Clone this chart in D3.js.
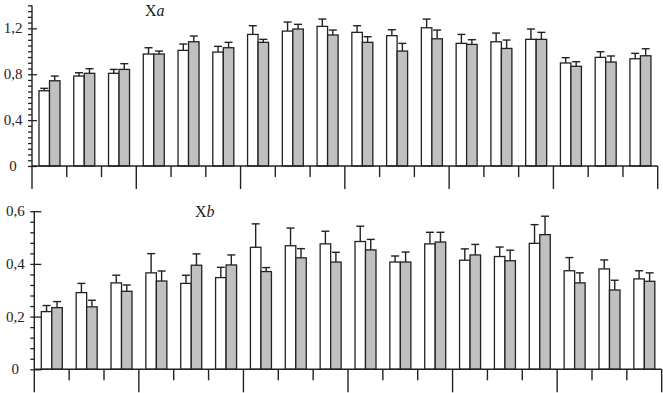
<!DOCTYPE html>
<html>
<head>
<meta charset="UTF-8">
<script src="https://d3js.org/d3.v7.min.js"></script>
<style>
  body { margin: 0; background: #fff; }
  .lbl { font-family: "Liberation Serif", serif; font-size: 15px; fill: #222; }
</style>
</head>
<body>
<svg width="663" height="393"></svg>
<script>
// 18 groups, two series each (white / grey), errors are the upward whisker length
const groups = d3.range(1, 19);

const aWhite    = [0.656, 0.784, 0.808, 0.976, 1.008, 0.993, 1.147, 1.176, 1.217, 1.165, 1.136, 1.205, 1.069, 1.083, 1.104, 0.898, 0.947, 0.935];
const aWhiteErr = [0.021, 0.029, 0.034, 0.055, 0.055, 0.050, 0.076, 0.079, 0.064, 0.058, 0.052, 0.076, 0.078, 0.076, 0.090, 0.046, 0.049, 0.047];
const aGrey     = [0.743, 0.808, 0.842, 0.976, 1.083, 1.031, 1.078, 1.194, 1.142, 1.078, 1.002, 1.109, 1.060, 1.025, 1.104, 0.869, 0.906, 0.961];
const aGreyErr  = [0.041, 0.040, 0.050, 0.026, 0.050, 0.047, 0.026, 0.041, 0.043, 0.049, 0.067, 0.076, 0.041, 0.073, 0.061, 0.040, 0.053, 0.061];

const bWhite    = [0.219, 0.291, 0.328, 0.366, 0.326, 0.348, 0.463, 0.469, 0.476, 0.485, 0.407, 0.476, 0.414, 0.428, 0.478, 0.374, 0.381, 0.343];
const bWhiteErr = [0.023, 0.035, 0.029, 0.073, 0.031, 0.039, 0.089, 0.067, 0.048, 0.058, 0.023, 0.044, 0.043, 0.036, 0.071, 0.050, 0.034, 0.031];
const bGrey     = [0.234, 0.237, 0.296, 0.335, 0.395, 0.396, 0.371, 0.423, 0.407, 0.453, 0.407, 0.483, 0.434, 0.412, 0.511, 0.328, 0.301, 0.334];
const bGreyErr  = [0.023, 0.025, 0.024, 0.038, 0.043, 0.038, 0.015, 0.035, 0.037, 0.040, 0.038, 0.037, 0.040, 0.040, 0.070, 0.038, 0.037, 0.032];

const aTicks = [0, 0.4, 0.8, 1.2];
const bTicks = [0, 0.2, 0.4, 0.6];

const svg = d3.select("svg");

function fmt(d) {
  return d === 0 ? "0" : d3.format(".1f")(d).replace(".", ",");
}

function panel(opt) {
  const g = svg.append("g");
  const x = d3.scaleBand().domain(groups).range([opt.x0, opt.x1]);
  const sub = d3.scaleBand().domain(["w", "g"]).range([7, 28]);
  const y = d3.scaleLinear().domain([0, opt.max]).range([opt.y0, opt.yTop]);

  const rows = groups.map((k, i) => [
    { k: k, s: "w", v: opt.white[i], e: opt.whiteErr[i] },
    { k: k, s: "g", v: opt.grey[i], e: opt.greyErr[i] }
  ]).flat();

  // error bars (drawn first so bar outline sits on top)
  const eb = g.selectAll(".err").data(rows).enter().append("g")
    .attr("stroke", "#222").attr("stroke-width", 1.4);
  eb.append("line")
    .attr("x1", d => x(d.k) + sub(d.s) + sub.bandwidth() / 2)
    .attr("x2", d => x(d.k) + sub(d.s) + sub.bandwidth() / 2)
    .attr("y1", d => y(d.v))
    .attr("y2", d => y(d.v + d.e));
  eb.append("line")
    .attr("x1", d => x(d.k) + sub(d.s) + sub.bandwidth() / 2 - 4)
    .attr("x2", d => x(d.k) + sub(d.s) + sub.bandwidth() / 2 + 4)
    .attr("y1", d => y(d.v + d.e))
    .attr("y2", d => y(d.v + d.e));

  g.selectAll("rect").data(rows).enter().append("rect")
    .attr("x", d => x(d.k) + sub(d.s))
    .attr("width", sub.bandwidth())
    .attr("y", d => y(d.v))
    .attr("height", d => y(0) - y(d.v))
    .attr("fill", d => d.s === "w" ? "#fff" : "#c0c0c0")
    .attr("stroke", "#222")
    .attr("stroke-width", 1.3);

  // baseline and category ticks
  g.append("line")
    .attr("x1", opt.x0).attr("x2", opt.x1)
    .attr("y1", y(0)).attr("y2", y(0))
    .attr("stroke", "#222").attr("stroke-width", 1.4);

  const edges = groups.map(k => x(k)).concat([opt.x1]);
  g.selectAll(".xt").data(edges).enter().append("line")
    .attr("x1", d => d).attr("x2", d => d)
    .attr("y1", y(0))
    .attr("y2", (d, i) => y(0) + (i % 3 === 0 ? 23 : 11))
    .attr("stroke", "#222").attr("stroke-width", 1.4);

  // y axis
  g.append("line")
    .attr("x1", opt.x0).attr("x2", opt.x0)
    .attr("y1", opt.yTop).attr("y2", y(0))
    .attr("stroke", "#222").attr("stroke-width", 1.4);

  const minor = g.append("g").attr("transform", `translate(${opt.x0},0)`)
    .call(d3.axisLeft(y).tickValues(d3.range(0, opt.max + 1e-9, opt.minorStep)).tickSize(4).tickFormat(""));
  const major = g.append("g").attr("transform", `translate(${opt.x0},0)`)
    .call(d3.axisRight(y).tickValues(opt.ticks).tickSize(opt.rightTick).tickFormat(""));
  [minor, major].forEach(a => {
    a.select(".domain").remove();
    a.selectAll("line").attr("stroke", "#222").attr("stroke-width", 1.3);
  });

  g.selectAll(".yl").data(opt.ticks).enter().append("text")
    .attr("class", "lbl")
    .attr("x", opt.x0 - 19)
    .attr("y", d => y(d))
    .attr("dy", "0.33em")
    .attr("text-anchor", "middle")
    .text(fmt);

  const t = g.append("text").attr("class", "lbl")
    .attr("x", opt.titleX).attr("y", opt.titleY)
    .style("font-size", "16px");
  t.append("tspan").text("X");
  t.append("tspan").style("font-style", "italic").text(opt.letter);
}

panel({
  x0: 32, x1: 657.7, y0: 166, yTop: 5.4, max: 1.4, minorStep: 0.05, ticks: aTicks, rightTick: 5,
  white: aWhite, whiteErr: aWhiteErr, grey: aGrey, greyErr: aGreyErr,
  titleX: 145, titleY: 16, letter: "a"
});

panel({
  x0: 34.3, x1: 661.7, y0: 369.3, yTop: 211.2, max: 0.6, minorStep: 0.04, ticks: bTicks, rightTick: 7,
  white: bWhite, whiteErr: bWhiteErr, grey: bGrey, greyErr: bGreyErr,
  titleX: 195, titleY: 217, letter: "b"
});
</script>
</body>
</html>
